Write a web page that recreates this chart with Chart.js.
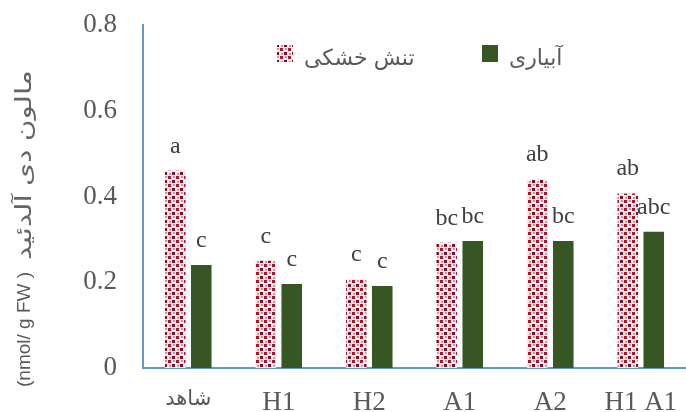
<!DOCTYPE html>
<html>
<head>
<meta charset="utf-8">
<script src="https://cdn.jsdelivr.net/npm/chart.js@4.4.0/dist/chart.umd.min.js"></script>
<style>
  html, body { margin: 0; padding: 0; background: #ffffff; }
  #wrap { width: 686px; height: 412px; }
</style>
</head>
<body>
<div id="wrap"><canvas id="c" width="686" height="412"></canvas></div>
<script>
// Malondialdehyde content per treatment, drought stress vs. irrigation
const categories = ['شاهد', 'H1', 'H2', 'A1', 'A2', 'H1 A1'];
const seriesNames = ['تنش خشکی', 'آبیاری'];
const droughtValues = [0.46, 0.25, 0.207, 0.292, 0.44, 0.407];
const irrigationValues = [0.24, 0.196, 0.191, 0.296, 0.296, 0.318];
const droughtLetters = ['a', 'c', 'c', 'bc', 'ab', 'ab'];
const irrigationLetters = ['c', 'c', 'c', 'bc', 'bc', 'abc'];
const yTickLabels = ['0', '0.2', '0.4', '0.6', '0.8'];
const yTitleUnit = '(nmol/ g FW )';
const yTitleName = 'مالون دی آلدئید';

const GREY = '#595959';
const LETTER_GREY = '#404040';
const AXIS_BLUE = '#5b9bd5';
const GREEN = '#375623';
const SERIF = '"Liberation Serif", "Times New Roman", "DejaVu Sans", serif';
const SANS = '"Liberation Sans", "DejaVu Sans", sans-serif';
const arabicRe = /[\u0600-\u06FF]/;

// Small red/maroon checker tile used for the drought-stress bars
function makeDotPattern() {
  const t = document.createElement('canvas');
  t.width = 8; t.height = 8;
  const g = t.getContext('2d');
  g.fillStyle = '#f7f0e6'; g.fillRect(0, 0, 8, 8);
  g.fillStyle = '#dcefe6'; g.fillRect(3, 1, 1, 2); g.fillRect(7, 5, 1, 2);
  g.fillStyle = '#b3122f'; g.fillRect(0, 0, 3, 3);
  g.fillStyle = '#7d1030'; g.fillRect(4, 4, 3, 3);
  g.fillStyle = '#e8899a'; g.fillRect(5, 0, 2, 2); g.fillRect(1, 5, 2, 2);
  return g.createPattern(t, 'repeat');
}
const dotPattern = makeDotPattern();

const seriesLetters = [droughtLetters, irrigationLetters];

// Significance letters above each bar
const letterPlugin = {
  id: 'letters',
  afterDatasetsDraw(chart) {
    const ctx = chart.ctx;
    ctx.save();
    ctx.font = '24px ' + SERIF;
    ctx.fillStyle = LETTER_GREY;
    ctx.textAlign = 'center';
    ctx.textBaseline = 'alphabetic';
    chart.data.datasets.forEach((ds, i) => {
      const meta = chart.getDatasetMeta(i);
      meta.data.forEach((bar, j) => {
        ctx.fillText(seriesLetters[i][j], bar.x, bar.y - 18);
      });
    });
    ctx.restore();
  }
};

// Legend inside the plot area, plus the rotated y-axis title
const legendPlugin = {
  id: 'innerLegend',
  afterDraw(chart) {
    const ctx = chart.ctx;
    const starts = [277, 482];
    ctx.save();
    chart.data.datasets.forEach((ds, i) => {
      const x = starts[i];
      ctx.fillStyle = ds.backgroundColor;
      ctx.fillRect(x, 45, 16, 17);
      ctx.font = '22px ' + SANS;
      ctx.fillStyle = GREY;
      ctx.textAlign = 'left';
      ctx.textBaseline = 'middle';
      ctx.fillText(ds.label, x + 27, 59);
    });

    // y-axis title: unit (latin) then the compound name, reading bottom to top
    ctx.translate(25, 0);
    ctx.rotate(-Math.PI / 2);
    ctx.textBaseline = 'middle';
    ctx.direction = 'ltr';
    ctx.textAlign = 'left';
    const unitFont = '19px ' + SANS;
    const nameFont = '22px ' + SANS;
    const bottom = 387;            // page y where the title begins (bottom end)
    const gap = 12;
    ctx.fillStyle = GREY;
    ctx.font = unitFont;
    const wUnit = ctx.measureText(yTitleUnit).width;
    ctx.fillText(yTitleUnit, -bottom, 0);
    ctx.font = nameFont;
    ctx.fillStyle = '#666666';
    ctx.save();
    ctx.translate(-bottom + wUnit + gap, 0);
    ctx.scale(1.35, 1);            // wide Arabic letterforms
    ctx.fillText(yTitleName, 0, 0);
    ctx.restore();
    ctx.restore();
  }
};

new Chart(document.getElementById('c'), {
  type: 'bar',
  data: {
    labels: categories,
    datasets: [
      {
        label: seriesNames[0],
        data: droughtValues,
        backgroundColor: dotPattern,
        borderWidth: 0,
        categoryPercentage: 0.575,
        barPercentage: 0.79
      },
      {
        label: seriesNames[1],
        data: irrigationValues,
        backgroundColor: GREEN,
        borderWidth: 0,
        categoryPercentage: 0.575,
        barPercentage: 0.79
      }
    ]
  },
  options: {
    responsive: false,
    animation: false,
    devicePixelRatio: 1,
    layout: { padding: { top: 25, right: 0, bottom: 0, left: 0 } },
    plugins: {
      legend: { display: false },
      tooltip: { enabled: false }
    },
    scales: {
      x: {
        offset: true,
        grid: { display: false, drawTicks: false },
        border: { display: true, color: AXIS_BLUE, width: 2 },
        afterFit(scale) {
          scale.height = 44;
          scale.paddingLeft = 0;
          scale.paddingRight = 0;
        },
        ticks: {
          color: GREY,
          padding: 19,
          maxRotation: 0,
          autoSkip: false,
          font(ctx) {
            const lbl = categories[ctx.index] || '';
            return arabicRe.test(lbl)
              ? { family: SANS, size: 21 }
              : { family: SERIF, size: 27 };
          }
        }
      },
      y: {
        min: 0,
        max: 0.8,
        grid: { display: false, drawTicks: false },
        border: { display: true, color: AXIS_BLUE, width: 2 },
        afterFit(scale) {
          scale.width = 143;
          scale.paddingTop = 0;
          scale.paddingBottom = 0;
        },
        ticks: {
          stepSize: 0.2,
          color: GREY,
          padding: 26,
          font: { family: SERIF, size: 27 },
          callback(value, index) { return yTickLabels[index]; }
        }
      }
    }
  },
  plugins: [letterPlugin, legendPlugin]
});
</script>
</body>
</html>
